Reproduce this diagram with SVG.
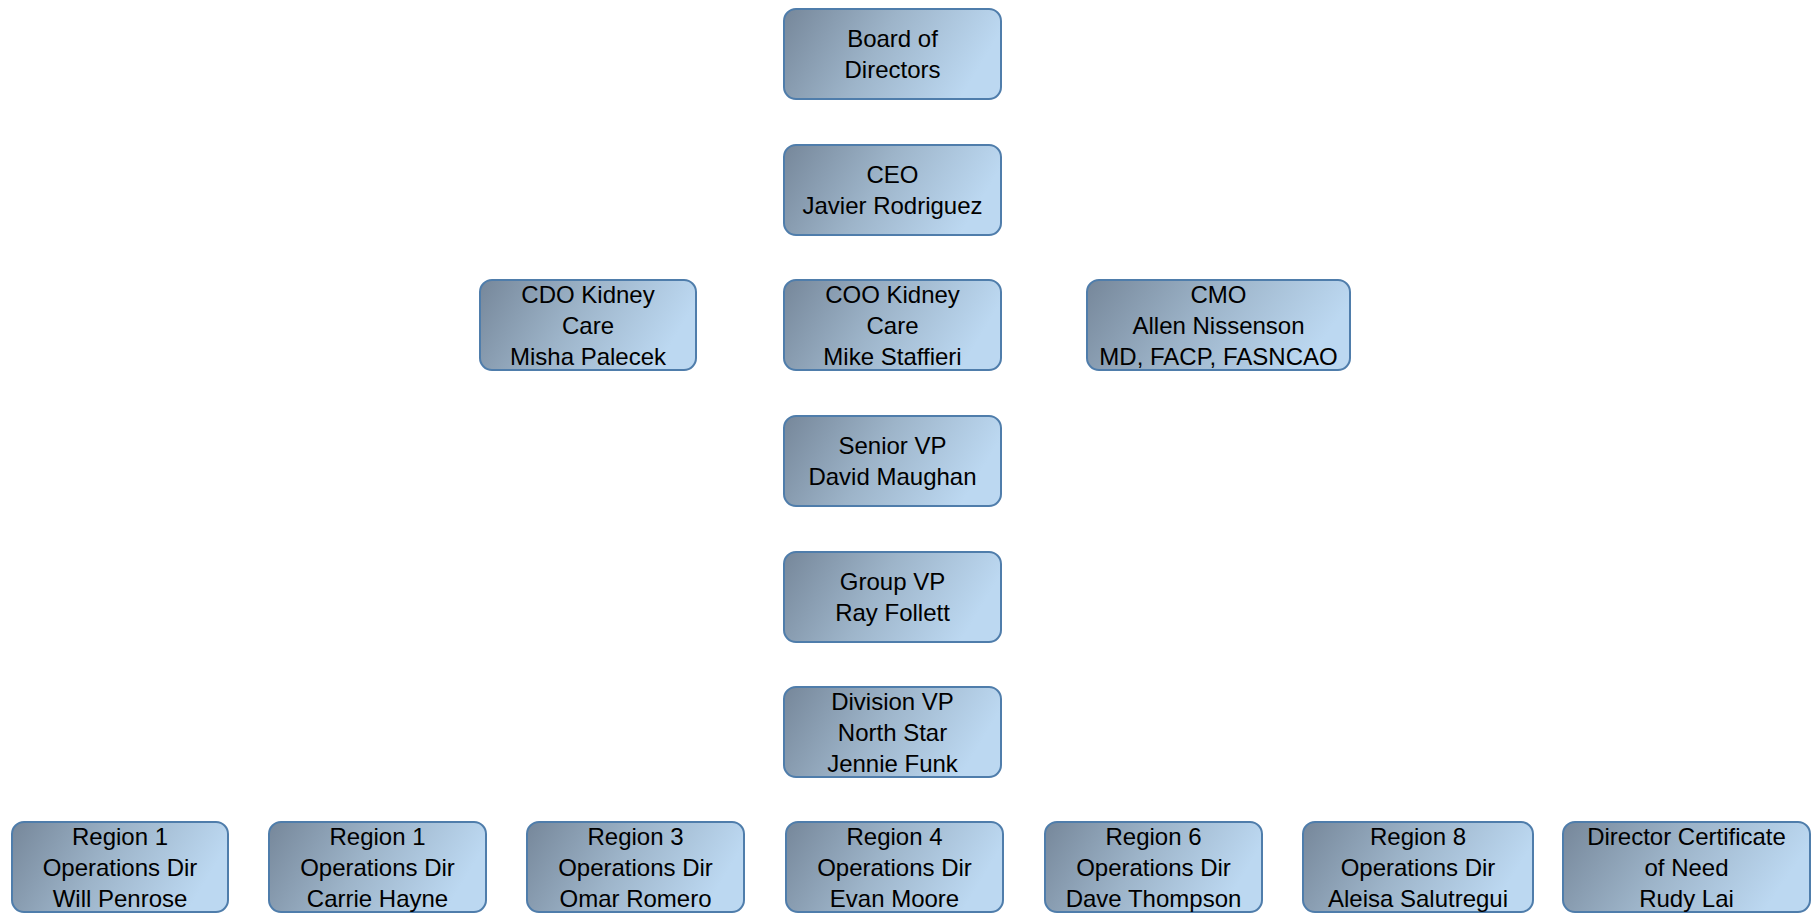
<svg xmlns="http://www.w3.org/2000/svg" width="1818" height="914" viewBox="0 0 1818 914">
<defs>
<linearGradient id="fill" x1="0" y1="0" x2="1" y2="0.25">
<stop offset="0" stop-color="#76879a"/>
<stop offset="0.5" stop-color="#9db4c9"/>
<stop offset="1" stop-color="#bcd8f1"/>
</linearGradient>
<style>
.box{fill:url(#fill);stroke:#4f7dab;stroke-width:2}
.t{font-family:"Liberation Sans",Arial,sans-serif;font-size:24px;fill:#000;text-anchor:middle}
</style>
</defs>
<rect width="1818" height="914" fill="#fff"/>
<g id="connectors"></g>
<g id="board"><rect class="box" x="784" y="9" width="217" height="90" rx="12"/><text class="t" x="892.5" y="47">Board of</text><text class="t" x="892.5" y="78">Directors</text></g>
<g id="ceo"><rect class="box" x="784" y="145" width="217" height="90" rx="12"/><text class="t" x="892.5" y="183">CEO</text><text class="t" x="892.5" y="214">Javier Rodriguez</text></g>
<g id="cdo"><rect class="box" x="480" y="280" width="216" height="90" rx="12"/><text class="t" x="588" y="303">CDO Kidney</text><text class="t" x="588" y="334">Care</text><text class="t" x="588" y="365">Misha Palecek</text></g>
<g id="coo"><rect class="box" x="784" y="280" width="217" height="90" rx="12"/><text class="t" x="892.5" y="303">COO Kidney</text><text class="t" x="892.5" y="334">Care</text><text class="t" x="892.5" y="365">Mike Staffieri</text></g>
<g id="cmo"><rect class="box" x="1087" y="280" width="263" height="90" rx="12"/><text class="t" x="1218.5" y="303">CMO</text><text class="t" x="1218.5" y="334">Allen Nissenson</text><text class="t" x="1218.5" y="365">MD, FACP, FASNCAO</text></g>
<g id="svp"><rect class="box" x="784" y="416" width="217" height="90" rx="12"/><text class="t" x="892.5" y="454">Senior VP</text><text class="t" x="892.5" y="485">David Maughan</text></g>
<g id="gvp"><rect class="box" x="784" y="552" width="217" height="90" rx="12"/><text class="t" x="892.5" y="590">Group VP</text><text class="t" x="892.5" y="621">Ray Follett</text></g>
<g id="dvp"><rect class="box" x="784" y="687" width="217" height="90" rx="12"/><text class="t" x="892.5" y="710">Division VP</text><text class="t" x="892.5" y="741">North Star</text><text class="t" x="892.5" y="772">Jennie Funk</text></g>
<g id="r1a"><rect class="box" x="12" y="822" width="216" height="90" rx="12"/><text class="t" x="120" y="845">Region 1</text><text class="t" x="120" y="876">Operations Dir</text><text class="t" x="120" y="907">Will Penrose</text></g>
<g id="r1b"><rect class="box" x="269" y="822" width="217" height="90" rx="12"/><text class="t" x="377.5" y="845">Region 1</text><text class="t" x="377.5" y="876">Operations Dir</text><text class="t" x="377.5" y="907">Carrie Hayne</text></g>
<g id="r3"><rect class="box" x="527" y="822" width="217" height="90" rx="12"/><text class="t" x="635.5" y="845">Region 3</text><text class="t" x="635.5" y="876">Operations Dir</text><text class="t" x="635.5" y="907">Omar Romero</text></g>
<g id="r4"><rect class="box" x="786" y="822" width="217" height="90" rx="12"/><text class="t" x="894.5" y="845">Region 4</text><text class="t" x="894.5" y="876">Operations Dir</text><text class="t" x="894.5" y="907">Evan Moore</text></g>
<g id="r6"><rect class="box" x="1045" y="822" width="217" height="90" rx="12"/><text class="t" x="1153.5" y="845">Region 6</text><text class="t" x="1153.5" y="876">Operations Dir</text><text class="t" x="1153.5" y="907">Dave Thompson</text></g>
<g id="r8"><rect class="box" x="1303" y="822" width="230" height="90" rx="12"/><text class="t" x="1418" y="845">Region 8</text><text class="t" x="1418" y="876">Operations Dir</text><text class="t" x="1418" y="907">Aleisa Salutregui</text></g>
<g id="con"><rect class="box" x="1563" y="822" width="247" height="90" rx="12"/><text class="t" x="1686.5" y="845">Director Certificate</text><text class="t" x="1686.5" y="876">of Need</text><text class="t" x="1686.5" y="907">Rudy Lai</text></g>
</svg>
